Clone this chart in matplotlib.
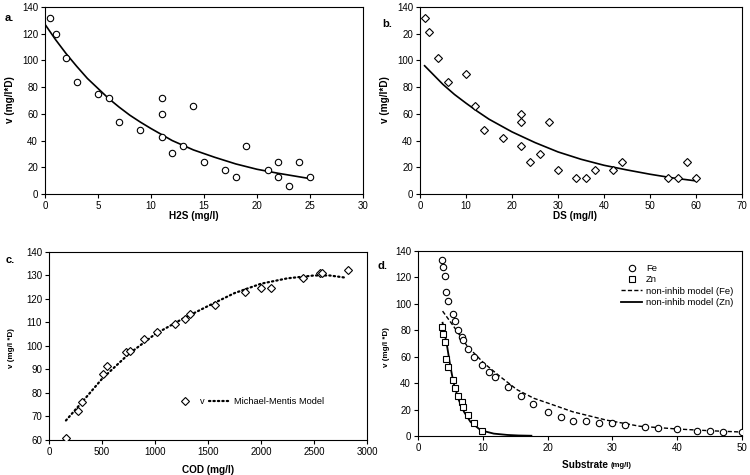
import matplotlib
matplotlib.use("Agg")
import matplotlib.pyplot as plt

plt.rcParams['font.family'] = ['Liberation Sans', 'DejaVu Sans']

# ---- panel a: H2S ----
h2s = [0.5, 1, 2, 3, 5, 6, 7, 9, 11, 11, 11, 12, 13, 14, 15, 17, 18, 19, 21, 22, 22, 23, 24, 25]
v_a = [132, 120, 102, 84, 75, 72, 54, 48, 72, 60, 42.5, 31, 36, 66, 24, 18, 12.5, 36, 18, 24, 12.5, 6, 24, 12.5]
fit_a_x = [0, 1, 2, 3, 4, 5, 6, 7, 8, 9, 10, 12, 14, 16, 18, 20, 22, 25]
fit_a_y = [127, 115.5, 105, 95.5, 86.5, 79, 71.5, 65, 59, 53.8, 49, 40, 33, 27.5, 22.5, 18.5, 15.5, 11.5]

# ---- panel b: DS ----
ds = [1, 2, 4, 6, 10, 12, 14, 18, 22, 22, 22, 24, 26, 28, 30, 34, 36, 38, 42, 44, 54, 56, 58, 60]
v_b = [132, 121, 102, 84, 90, 66, 48, 42, 60, 54, 36, 24, 30, 54, 18, 12, 12, 18, 18, 24, 12, 12, 24, 12]
fit_b_x = [1, 3, 5, 7.5, 10, 12.5, 15, 20, 25, 30, 35, 40, 45, 50, 55, 60]
fit_b_y = [96, 89, 82, 74.5, 68, 61.8, 56, 46.5, 38.5, 31.5, 26, 21.5, 18, 14.8, 12, 9.8]

# ---- panel c: COD ----
cod = [160, 270, 315, 505, 550, 730, 760, 900, 1020, 1185, 1280, 1335, 1570, 1845, 2000, 2090, 2395, 2555, 2580, 2820]
v_c = [61, 72.5, 76, 88, 91.5, 97.5, 98, 103, 106, 109.5, 111.5, 113.5, 117.5, 123, 124.5, 124.5, 129, 131, 131, 132.5]
mm_x = [160, 300, 500, 750, 1000, 1250, 1500, 1750, 2000, 2250, 2500, 2650, 2810]
mm_y = [68.3, 75.5, 86, 96.5, 105, 111.3, 117, 122.5, 126.5, 128.8, 130, 130, 129]

# ---- panel d: Substrate ----
fe_x = [3.7, 3.85, 4.1, 4.4, 4.7, 5.4, 5.7, 6.2, 6.8, 7.0, 7.7, 8.7, 9.9, 10.9, 11.9, 13.9, 15.9, 17.8,
        20, 22, 24, 26, 28, 30, 32, 35, 37, 40, 43, 45, 47, 50]
fe_v = [133, 128, 121, 109, 102, 92, 87, 80.5, 75, 72.5, 66, 60, 54, 48.5, 44.5, 37, 30, 24.5,
        18, 14.5, 11.5, 11, 10.2, 9.5, 8, 7, 6.3, 5.6, 4, 3.5, 3, 3]
zn_x = [3.7, 3.85, 4.1, 4.4, 4.7, 5.4, 5.7, 6.2, 6.8, 7.0, 7.7, 8.7, 9.9]
zn_v = [82.5, 77, 71, 58, 52.5, 42, 36.5, 30, 25.5, 22, 16, 10, 3.5]
fe_mod_x = [3.8, 5.5, 7.6, 10.2, 12.8, 15.3, 17.9, 20, 23.9, 29.1, 34.2, 40, 45, 50]
fe_mod_y = [94.5, 83, 68, 55, 44.5, 35, 28.5, 25, 18.3, 12, 7.4, 5.3, 4, 3]
zn_mod_x = [3.8, 4.5, 5.0, 5.5, 6.3, 7.1, 8.1, 9.7, 11.7, 13.8, 15.5, 17.5]
zn_mod_y = [85.7, 67.8, 52.6, 40, 27.2, 18.3, 10.7, 4.3, 1.8, 0.8, 0.4, 0.2]

TICK_FS = 7
LAB_FS = 7.2

fig = plt.figure(figsize=(7.5, 4.75), dpi=100)


def style(ax):
    for s in ax.spines.values():
        s.set_linewidth(0.8)
        s.set_color('black')
    ax.tick_params(direction='out', length=3, width=0.8, labelsize=TICK_FS, colors='black', pad=2)


# panel a
ax_a = fig.add_axes([0.060, 0.5916, 0.424, 0.3937])
ax_a.plot(h2s, v_a, 'o', mfc='white', mec='black', ms=4.6, mew=0.8, zorder=3)
ax_a.plot(fit_a_x, fit_a_y, '-', color='black', lw=1.2)
ax_a.set_xlim(0, 30)
ax_a.set_ylim(0, 140)
ax_a.set_xticks(range(0, 31, 5))
ax_a.set_yticks(range(0, 141, 20))
style(ax_a)
ax_a.set_xlabel('H2S (mg/l)', fontsize=LAB_FS, fontweight='bold')
ax_a.xaxis.set_label_coords(0.469, -0.09)
ax_a.set_ylabel('v (mg/l*D)', fontsize=LAB_FS, fontweight='bold')
ax_a.yaxis.set_label_coords(-0.094, 0.503)
fig.text(5 / 750, 1 - 18 / 475, 'a.', fontsize=8, fontweight='bold', va='center', ha='left')

# panel b
ax_b = fig.add_axes([0.560, 0.5916, 0.4293, 0.3937])
ax_b.plot(ds, v_b, 'D', mfc='white', mec='black', ms=4.2, mew=0.8, zorder=3)
ax_b.plot(fit_b_x, fit_b_y, '-', color='black', lw=1.2)
ax_b.set_xlim(0, 70)
ax_b.set_ylim(0, 140)
ax_b.set_xticks(range(0, 71, 10))
ax_b.set_yticks(range(0, 141, 20))
ax_b.set_yticklabels(['0', '20', '40', '60', '80', '100', '20', '140'])
style(ax_b)
ax_b.set_xlabel('DS (mg/l)', fontsize=LAB_FS, fontweight='bold')
ax_b.xaxis.set_label_coords(0.481, -0.09)
ax_b.set_ylabel('v (mg/l*D)', fontsize=LAB_FS, fontweight='bold')
ax_b.yaxis.set_label_coords(-0.093, 0.503)
fig.text(382 / 750, 1 - 24 / 475, 'b.', fontsize=8, fontweight='bold', va='center', ha='left')

# panel c
ax_c = fig.add_axes([0.0653, 0.0737, 0.424, 0.3958])
ax_c.plot(cod, v_c, 'D', mfc='white', mec='black', ms=4.2, mew=0.8, zorder=3, label='v')
ax_c.plot(mm_x, mm_y, color='black', lw=1.6, linestyle=(0, (0.6, 1.4)), dash_capstyle='round',
          label='Michael-Mentis Model')
ax_c.set_xlim(0, 3000)
ax_c.set_ylim(60, 140)
ax_c.set_xticks(range(0, 3001, 500))
ax_c.set_yticks(range(60, 141, 10))
style(ax_c)
ax_c.set_xlabel('COD (mg/l)', fontsize=LAB_FS, fontweight='bold')
ax_c.xaxis.set_label_coords(0.50, -0.133)
ax_c.set_ylabel('v (mg/l *D)', fontsize=5.8, fontweight='bold')
ax_c.yaxis.set_label_coords(-0.107, 0.49)
ax_c.legend(loc='center left', bbox_to_anchor=(0.385, 0.204), ncol=2, frameon=False, fontsize=6.7,
            handlelength=2.2, columnspacing=0.4, handletextpad=0.5, borderaxespad=0)
fig.text(6 / 750, 1 - 260 / 475, 'c.', fontsize=8, fontweight='bold', va='center', ha='left')

# panel d
ax_d = fig.add_axes([0.5573, 0.0821, 0.432, 0.3895])
ax_d.plot(fe_x, fe_v, 'o', mfc='white', mec='black', ms=4.6, mew=0.8, zorder=3, label='Fe')
ax_d.plot(zn_x, zn_v, 's', mfc='white', mec='black', ms=4.3, mew=0.8, zorder=3, label='Zn')
ax_d.plot(fe_mod_x, fe_mod_y, color='black', lw=1.0, linestyle=(0, (3, 1.6)), label='non-inhib model (Fe)')
ax_d.plot(zn_mod_x, zn_mod_y, color='black', lw=1.3, linestyle='-', label='non-inhib model (Zn)')
ax_d.set_xlim(0, 50)
ax_d.set_ylim(0, 140)
ax_d.set_xticks(range(0, 51, 10))
ax_d.set_yticks(range(0, 141, 20))
style(ax_d)
ax_d.set_ylabel('v (mg/l *D)', fontsize=5.8, fontweight='bold')
ax_d.yaxis.set_label_coords(-0.086, 0.483)
ax_d.text(0.596, -0.157, 'Substrate ', transform=ax_d.transAxes, ha='right', va='center',
          fontsize=LAB_FS, fontweight='bold')
ax_d.text(0.596, -0.162, '(mg/l)', transform=ax_d.transAxes, ha='left', va='center',
          fontsize=5.5, fontweight='bold')
ax_d.legend(loc='upper right', bbox_to_anchor=(0.985, 0.95), frameon=False, fontsize=6.8,
            handlelength=2.2, handletextpad=0.4, labelspacing=0.25, borderaxespad=0)
fig.text(378 / 750, 1 - 266 / 475, 'd.', fontsize=8, fontweight='bold', va='center', ha='left')

fig.savefig('out.png', dpi=100, facecolor='white')
